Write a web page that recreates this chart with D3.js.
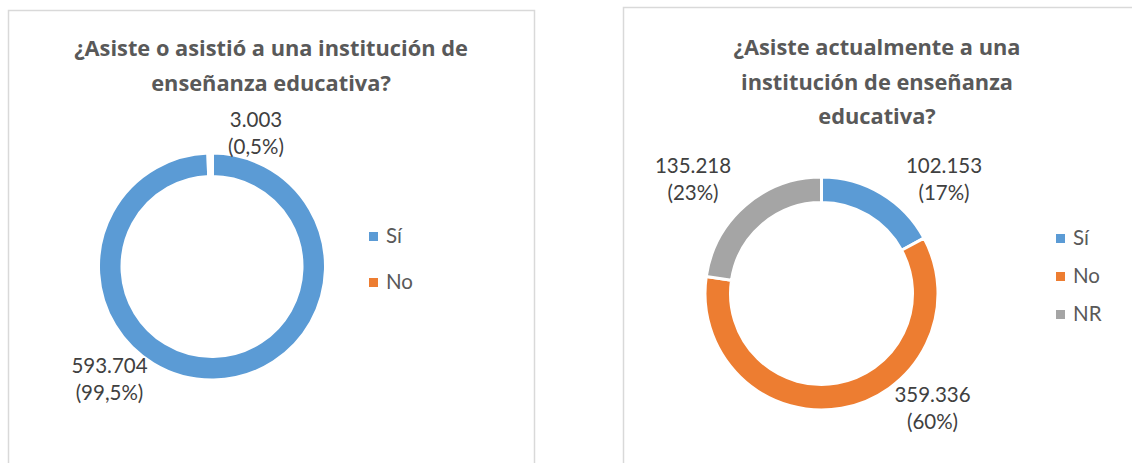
<!DOCTYPE html>
<html>
<head>
<meta charset="utf-8">
<script src="https://cdn.jsdelivr.net/npm/d3@7"></script>
<style>
  html, body { margin: 0; padding: 0; background: #fff; }
  svg { display: block; }
  text { font-family: Lato, "Open Sans", sans-serif; }
  text.title { font-family: "Open Sans", Lato, sans-serif; }
</style>
</head>
<body>
<svg id="chart" width="1132" height="463"></svg>
<script>
// ---- Data ----
const categoriesA = ["Sí", "No"];
const valuesA = [593704, 3003];
const labelsA = [["593.704", "(99,5%)"], ["3.003", "(0,5%)"]];
const titleA = ["¿Asiste o asistió a una institución de", "enseñanza educativa?"];

const categoriesB = ["Sí", "No", "NR"];
const valuesB = [102153, 359336, 135218];
const labelsB = [["102.153", "(17%)"], ["359.336", "(60%)"], ["135.218", "(23%)"]];
const titleB = ["¿Asiste actualmente a una", "institución de enseñanza", "educativa?"];

const colorsAll = ["#5B9BD5", "#ED7D31", "#A5A5A5"];

// ---- Layout ----
const svg = d3.select("#chart");

const panels = [
  {
    cats: categoriesA, vals: valuesA, labels: labelsA, title: titleA,
    frame: {x: 8.5, y: 10.5, w: 526, h: 470},
    titleX: 271, titleY: 56, titleStep: 35,
    cx: 212, cy: 266.5, rOut: 114, rIn: 89.5, sliceStroke: 4,
    labelPos: [{x: 109.5, y: 373}, {x: 256, y: 127}],
    legendX: 369, legendY: 232, legendStep: 46
  },
  {
    cats: categoriesB, vals: valuesB, labels: labelsB, title: titleB,
    frame: {x: 623.5, y: 7.5, w: 520, h: 470},
    titleX: 877, titleY: 55, titleStep: 34.5,
    cx: 821.5, cy: 293.5, rOut: 116.5, rIn: 91, sliceStroke: 3,
    labelPos: [{x: 944, y: 173}, {x: 932.5, y: 402}, {x: 693, y: 173}],
    legendX: 1056, legendY: 234, legendStep: 38
  }
];

panels.forEach(p => {
  const g = svg.append("g");

  g.append("rect")
    .attr("x", p.frame.x).attr("y", p.frame.y)
    .attr("width", p.frame.w).attr("height", p.frame.h)
    .attr("fill", "#fff").attr("stroke", "#d9d9d9").attr("stroke-width", 1.5);

  // Title
  p.title.forEach((line, i) => {
    g.append("text")
      .attr("class", "title")
      .attr("x", p.titleX).attr("y", p.titleY + i * p.titleStep)
      .attr("text-anchor", "middle")
      .attr("font-size", 21.8).attr("font-weight", "bold")
      .attr("fill", "#595959")
      .text(line);
  });

  const color = d3.scaleOrdinal().domain(p.cats).range(colorsAll);
  const data = p.cats.map((c, i) => ({cat: c, value: p.vals[i], label: p.labels[i]}));
  const pie = d3.pie().value(d => d.value).sort(null).startAngle(0).endAngle(2 * Math.PI);
  const arc = d3.arc().innerRadius(p.rIn).outerRadius(p.rOut);
  const arcs = pie(data);

  const ring = g.append("g").attr("transform", `translate(${p.cx},${p.cy})`);
  ring.selectAll("path").data(arcs).join("path")
    .attr("d", arc)
    .attr("fill", d => color(d.data.cat))
    .attr("stroke", "#fff")
    .attr("stroke-width", p.sliceStroke)
    .attr("stroke-linejoin", "miter");

  // Data labels
  arcs.forEach((a, i) => {
    const pos = p.labelPos[i];
    a.data.label.forEach((line, j) => {
      g.append("text")
        .attr("x", pos.x).attr("y", pos.y + j * 27)
        .attr("text-anchor", "middle")
        .attr("font-size", 20.5)
        .attr("fill", "#404040")
        .text(line);
    });
  });

  // Legend
  p.cats.forEach((c, i) => {
    const y = p.legendY + i * p.legendStep;
    g.append("rect")
      .attr("x", p.legendX).attr("y", y)
      .attr("width", 9).attr("height", 9)
      .attr("fill", color(c));
    g.append("text")
      .attr("x", p.legendX + 17).attr("y", y + 11)
      .attr("font-size", 20.5)
      .attr("fill", "#595959")
      .text(c);
  });
});
</script>
</body>
</html>
